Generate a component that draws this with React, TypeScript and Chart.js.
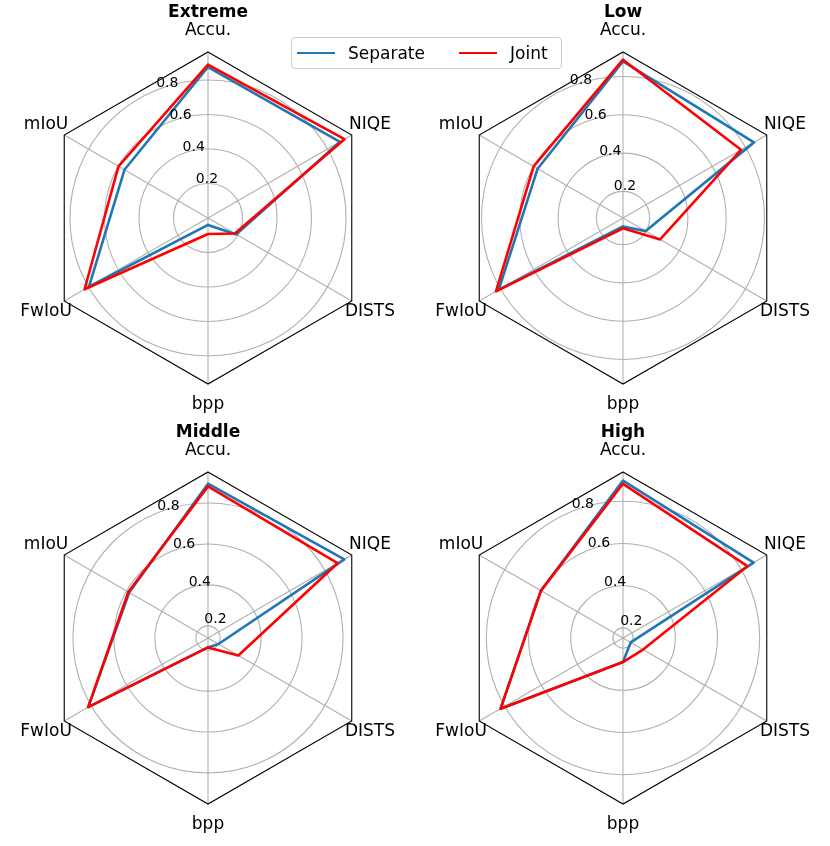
import React, { useEffect, useRef } from 'react';
import { Chart, registerables } from 'chart.js';

Chart.register(...registerables);

// ---- data ----
const axisLabels = ['Accu.', 'NIQE', 'DISTS', 'bpp', 'FwIoU', 'mIoU'];
const panelTitles = ['Extreme', 'Low', 'Middle', 'High'];
const tickValues = [0.2, 0.4, 0.6, 0.8];
const seriesNames = ['Separate', 'Joint'];

const extremeSeparate = [0.875, 0.883, 0.19, 0.04, 0.797, 0.559];
const extremeJoint = [0.889, 0.913, 0.18, 0.093, 0.826, 0.599];
const lowSeparate = [0.879, 0.851, 0.198, 0.105, 0.81, 0.576];
const lowJoint = [0.888, 0.773, 0.285, 0.115, 0.827, 0.6];
const middleSeparate = [0.894, 0.909, 0.2, 0.187, 0.816, 0.585];
const middleJoint = [0.881, 0.871, 0.312, 0.187, 0.816, 0.59];
const highSeparate = [0.898, 0.867, 0.194, 0.266, 0.822, 0.601];
const highJoint = [0.883, 0.833, 0.262, 0.266, 0.822, 0.601];

const radialMin = [0, 0.061, 0.141, 0.152];
const radialMax = [0.962, 0.928, 0.951, 0.939];

const separateData = [extremeSeparate, lowSeparate, middleSeparate, highSeparate];
const jointData = [extremeJoint, lowJoint, middleJoint, highJoint];

const BLUE = '#1f77b4';
const RED = '#ff0000';
const GRID = '#b0b0b0';
const FONT = '"DejaVu Sans", "Liberation Sans", sans-serif';

const decorPlugin = {
  id: 'radarDecor',
  beforeDatasetsDraw(chart: any) {
    const scale = chart.scales.r;
    const ctx = chart.ctx;
    const n = chart.data.labels.length;
    const R = scale.getDistanceFromCenterForValue(scale.max);
    ctx.save();
    ctx.beginPath();
    for (let i = 0; i < n; i++) {
      const p = scale.getPointPosition(i, R);
      if (i === 0) ctx.moveTo(p.x, p.y);
      else ctx.lineTo(p.x, p.y);
    }
    ctx.closePath();
    ctx.strokeStyle = '#000';
    ctx.lineWidth = 1.1;
    ctx.stroke();
    ctx.restore();
  },
  afterDraw(chart: any, _args: any, opts: any) {
    const scale = chart.scales.r;
    const ctx = chart.ctx;
    const labels = chart.data.labels;
    const R = scale.getDistanceFromCenterForValue(scale.max);
    ctx.save();
    ctx.fillStyle = '#000';
    // point labels
    ctx.font = `17px ${FONT}`;
    ctx.textAlign = 'center';
    ctx.textBaseline = 'middle';
    labels.forEach((lab: string, i: number) => {
      const p = scale.getPointPosition(i, R + 21);
      ctx.fillText(lab, p.x, p.y);
    });
    // tick labels at 22.5 deg
    ctx.font = `14px ${FONT}`;
    ctx.textAlign = 'left';
    ctx.textBaseline = 'bottom';
    const a = (22.5 * Math.PI) / 180;
    scale.ticks.forEach((t: any) => {
      if (!tickValues.includes(t.value)) return;
      const d = scale.getDistanceFromCenterForValue(t.value);
      const x = scale.xCenter - d * Math.sin(a);
      const y = scale.yCenter - d * Math.cos(a);
      ctx.fillText(t.value.toFixed(1), x + 1, y);
    });
    // title
    ctx.font = `bold 17px ${FONT}`;
    ctx.textAlign = 'center';
    ctx.textBaseline = 'middle';
    ctx.fillText(opts.title, scale.xCenter, scale.yCenter - 205);
    ctx.restore();
  },
};

function RadarPanel({ idx, left, top, height }: { idx: number; left: number; top: number; height: number }) {
  const ref = useRef<HTMLCanvasElement>(null);
  useEffect(() => {
    if (!ref.current) return;
    const rmin = radialMin[idx];
    const rmax = radialMax[idx];
    const chart = new Chart(ref.current, {
      type: 'radar',
      data: {
        labels: axisLabels,
        datasets: [
          {
            label: seriesNames[0],
            data: separateData[idx],
            borderColor: BLUE,
            backgroundColor: 'transparent',
            borderWidth: 2.6,
            fill: false,
            pointRadius: 0,
            borderJoinStyle: 'round',
            order: 1,
          },
          {
            label: seriesNames[1],
            data: jointData[idx],
            borderColor: RED,
            backgroundColor: 'transparent',
            borderWidth: 2.6,
            fill: false,
            pointRadius: 0,
            borderJoinStyle: 'round',
            order: 0,
          },
        ],
      },
      options: {
        responsive: false,
        animation: false,
        layout: { padding: { left: 42, right: 41, top: 52, bottom: height - 52 - 332 } },
        plugins: {
          legend: { display: false },
          tooltip: { enabled: false },
          radarDecor: { title: panelTitles[idx] },
        } as any,
        scales: {
          r: {
            min: rmin,
            max: rmax,
            startAngle: 0,
            afterBuildTicks: (scale: any) => {
              scale.ticks = [rmin, ...tickValues].map((v) => ({ value: v }));
            },
            ticks: { display: false },
            pointLabels: { display: false },
            grid: { circular: true, color: GRID, lineWidth: 1.1 },
            angleLines: { display: true, color: GRID, lineWidth: 1.1 },
          } as any,
        },
      },
      plugins: [decorPlugin],
    });
    return () => chart.destroy();
  }, [idx, height]);
  return (
    <canvas
      ref={ref}
      width={415}
      height={height}
      style={{ position: 'absolute', left, top, width: 415, height }}
    />
  );
}

function Legend() {
  const item = (color: string, text: string, ml: number) => (
    <div style={{ display: 'flex', alignItems: 'center', marginLeft: ml }}>
      <div style={{ width: 38, height: 2.6, background: color }} />
      <span style={{ marginLeft: 13, fontSize: 17, fontFamily: FONT, color: '#000', lineHeight: '20px' }}>{text}</span>
    </div>
  );
  return (
    <div
      style={{
        position: 'absolute',
        left: 291,
        top: 37,
        width: 271,
        height: 32,
        boxSizing: 'border-box',
        border: '1px solid #cccccc',
        borderRadius: 4,
        background: 'rgba(255,255,255,0.8)',
        display: 'flex',
        alignItems: 'center',
        zIndex: 2,
      }}
    >
      {item(BLUE, seriesNames[0], 5)}
      {item(RED, seriesNames[1], 34)}
    </div>
  );
}

export default function App() {
  return (
    <div style={{ position: 'absolute', left: 0, top: 0, width: 830, height: 846, background: '#fff' }}>
      <RadarPanel idx={0} left={0} top={0} height={420} />
      <RadarPanel idx={1} left={415} top={0} height={420} />
      <RadarPanel idx={2} left={0} top={420} height={426} />
      <RadarPanel idx={3} left={415} top={420} height={426} />
      <Legend />
    </div>
  );
}
